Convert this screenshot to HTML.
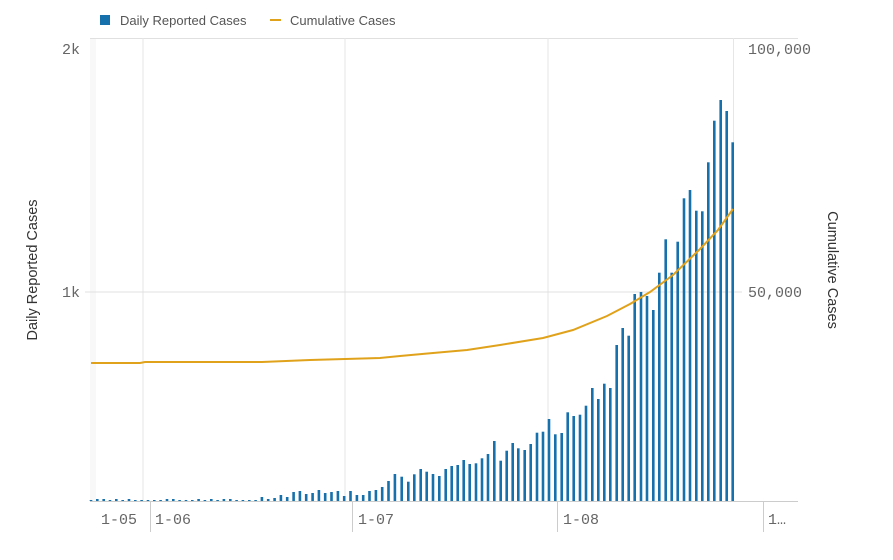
<!DOCTYPE html>
<html><head><meta charset="utf-8"><style>
body{margin:0;background:#fff;width:893px;height:560px;overflow:hidden}
svg{display:block}
text{font-family:"Liberation Sans",sans-serif}
.t{font-family:"Liberation Mono",monospace;fill:#666;font-size:15px}
</style></head><body>
<svg width="893" height="560" viewBox="0 0 893 560">
<rect x="100" y="15" width="10" height="10" fill="#1670ab"/>
<text x="120" y="25" font-size="13" fill="#555">Daily Reported Cases</text>
<rect x="270" y="19" width="11" height="2" fill="#e0a21b"/>
<text x="290" y="25" font-size="13" fill="#555">Cumulative Cases</text>
<rect x="90" y="38" width="6" height="463" fill="#f8f8f8"/>
<line x1="90" y1="38.5" x2="798" y2="38.5" stroke="#e0e0e0"/>
<line x1="143" y1="38" x2="143" y2="501" stroke="#e6e6e6"/>
<line x1="345" y1="38" x2="345" y2="501" stroke="#e6e6e6"/>
<line x1="548" y1="38" x2="548" y2="501" stroke="#e6e6e6"/>
<line x1="733.5" y1="38" x2="733.5" y2="501" stroke="#e6e6e6"/>
<line x1="85" y1="292" x2="742" y2="292" stroke="#e0e0e0"/>
<line x1="90" y1="501.5" x2="798" y2="501.5" stroke="#ccc"/>
<g stroke="#ccc"><line x1="150.5" y1="502" x2="150.5" y2="532"/><line x1="352.5" y1="502" x2="352.5" y2="532"/><line x1="557.5" y1="502" x2="557.5" y2="532"/><line x1="763.5" y1="502" x2="763.5" y2="532"/></g>
<text class="t" x="62" y="54">2k</text>
<text class="t" x="62" y="297">1k</text>
<text class="t" x="748" y="54">100,000</text>
<text class="t" x="748" y="297">50,000</text>
<text class="t" x="101" y="524">1-05</text>
<text class="t" x="155" y="524">1-06</text>
<text class="t" x="358" y="524">1-07</text>
<text class="t" x="563" y="524">1-08</text>
<text class="t" x="768" y="524">1…</text>
<text transform="translate(37,270) rotate(-90)" text-anchor="middle" font-size="14.5" fill="#333">Daily Reported Cases</text>
<text transform="translate(828,270) rotate(90)" text-anchor="middle" font-size="14.5" fill="#333">Cumulative Cases</text>
<g fill="#1670ab">
<rect x="89.7" y="500" width="2.6" height="1"/><rect x="96" y="499" width="2.6" height="2"/><rect x="102.4" y="499" width="2.6" height="2"/><rect x="108.7" y="500" width="2.6" height="1"/><rect x="115" y="499" width="2.6" height="2"/><rect x="121.4" y="500" width="2.6" height="1"/><rect x="127.7" y="499" width="2.6" height="2"/><rect x="134" y="500" width="2.6" height="1"/><rect x="140.3" y="500" width="2.6" height="1"/><rect x="146.7" y="500" width="2.6" height="1"/><rect x="153" y="500" width="2.6" height="1"/><rect x="159.3" y="500" width="2.6" height="1"/><rect x="165.7" y="499" width="2.6" height="2"/><rect x="172" y="499" width="2.6" height="2"/><rect x="178.3" y="500" width="2.6" height="1"/><rect x="184.7" y="500" width="2.6" height="1"/><rect x="191" y="500" width="2.6" height="1"/><rect x="197.3" y="499" width="2.6" height="2"/><rect x="203.6" y="500" width="2.6" height="1"/><rect x="210" y="499" width="2.6" height="2"/><rect x="216.3" y="500" width="2.6" height="1"/><rect x="222.6" y="499" width="2.6" height="2"/><rect x="229" y="499" width="2.6" height="2"/><rect x="235.3" y="500" width="2.6" height="1"/><rect x="241.6" y="500" width="2.6" height="1"/><rect x="248" y="500" width="2.6" height="1"/><rect x="254.3" y="500" width="2.6" height="1"/>
<rect x="260.6" y="497" width="2.6" height="4"/><rect x="266.9" y="499" width="2.6" height="2"/><rect x="273.3" y="498" width="2.6" height="3"/><rect x="279.6" y="495" width="2.6" height="6"/><rect x="285.9" y="497" width="2.6" height="4"/><rect x="292.3" y="492" width="2.6" height="9"/><rect x="298.6" y="491" width="2.6" height="10"/><rect x="304.9" y="494" width="2.6" height="7"/><rect x="311.3" y="493" width="2.6" height="8"/><rect x="317.6" y="490" width="2.6" height="11"/><rect x="323.9" y="493" width="2.6" height="8"/><rect x="330.2" y="492" width="2.6" height="9"/><rect x="336.6" y="491" width="2.6" height="10"/><rect x="342.9" y="496" width="2.6" height="5"/><rect x="349.2" y="491" width="2.6" height="10"/><rect x="355.6" y="495" width="2.6" height="6"/><rect x="361.9" y="495" width="2.6" height="6"/><rect x="368.2" y="491" width="2.6" height="10"/><rect x="374.6" y="490" width="2.6" height="11"/><rect x="380.9" y="487" width="2.6" height="14"/><rect x="387.2" y="481" width="2.6" height="20"/><rect x="393.6" y="474" width="2.6" height="27"/>
<rect x="400.4" y="476.7" width="2.6" height="24.3"/><rect x="407" y="481.7" width="2.6" height="19.3"/><rect x="413" y="474.3" width="2.6" height="26.7"/><rect x="419.4" y="469" width="2.6" height="32"/><rect x="425.4" y="471.7" width="2.6" height="29.3"/><rect x="431.7" y="474" width="2.6" height="27"/><rect x="438" y="476" width="2.6" height="25"/><rect x="444.4" y="469" width="2.6" height="32"/><rect x="450.4" y="466" width="2.6" height="35"/><rect x="456.4" y="465" width="2.6" height="36"/><rect x="462.4" y="460" width="2.6" height="41"/><rect x="468.4" y="464" width="2.6" height="37"/><rect x="474.7" y="463.3" width="2.6" height="37.7"/><rect x="480.7" y="458.3" width="2.6" height="42.7"/><rect x="486.7" y="454" width="2.6" height="47"/><rect x="493" y="441" width="2.6" height="60"/><rect x="499.4" y="460.7" width="2.6" height="40.3"/><rect x="505.4" y="450.7" width="2.6" height="50.3"/><rect x="511.4" y="443" width="2.6" height="58"/><rect x="517" y="448.3" width="2.6" height="52.7"/><rect x="523.4" y="450" width="2.6" height="51"/><rect x="529.4" y="444" width="2.6" height="57"/><rect x="535.7" y="432.7" width="2.6" height="68.3"/><rect x="541.7" y="431.7" width="2.6" height="69.3"/><rect x="547.7" y="419" width="2.6" height="82"/><rect x="554" y="434.3" width="2.6" height="66.7"/><rect x="560.4" y="433" width="2.6" height="68"/><rect x="566.4" y="412.3" width="2.6" height="88.7"/><rect x="572.4" y="416" width="2.6" height="85"/><rect x="578.7" y="414.7" width="2.6" height="86.3"/><rect x="584.7" y="405.7" width="2.6" height="95.3"/><rect x="591" y="388" width="2.6" height="113"/><rect x="597" y="399" width="2.6" height="102"/><rect x="603" y="383.7" width="2.6" height="117.3"/><rect x="609" y="388" width="2.6" height="113"/><rect x="615.4" y="345" width="2.6" height="156"/><rect x="621.4" y="328" width="2.6" height="173"/><rect x="627.4" y="335.7" width="2.6" height="165.3"/><rect x="633.4" y="294" width="2.6" height="207"/><rect x="639.7" y="292" width="2.6" height="209"/><rect x="645.7" y="296" width="2.6" height="205"/><rect x="652" y="310" width="2.6" height="191"/><rect x="658" y="272.7" width="2.6" height="228.3"/><rect x="664.4" y="239.3" width="2.6" height="261.7"/><rect x="670.4" y="272.7" width="2.6" height="228.3"/><rect x="676.4" y="241.7" width="2.6" height="259.3"/><rect x="682.7" y="198.3" width="2.6" height="302.7"/><rect x="688.7" y="190" width="2.6" height="311"/><rect x="695" y="210.7" width="2.6" height="290.3"/><rect x="701" y="211.3" width="2.6" height="289.7"/><rect x="707" y="162.3" width="2.6" height="338.7"/><rect x="713" y="120.7" width="2.6" height="380.3"/><rect x="719.4" y="100" width="2.6" height="401"/><rect x="725.4" y="111" width="2.6" height="390"/><rect x="731.4" y="142.3" width="2.6" height="358.7"/>
</g>
<polyline fill="none" stroke="#e0a21b" stroke-width="2" points="91,363 140,363 145,362 262,362 310,360 345,359 380,358 400,356 433,353 467,350 500,345 543,338 573,330 607,316 630,304 650,292 673,275 700,249 718,230 733,209"/>
</svg>
</body></html>
